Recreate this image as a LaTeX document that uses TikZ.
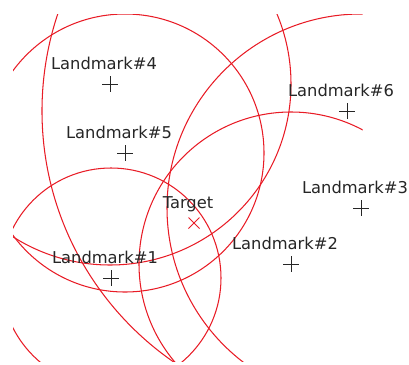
\documentclass[tikz,border=0pt]{standalone}
\usepackage{fontspec}
\setmainfont{DejaVu Sans}
\definecolor{ringred}{RGB}{232,28,38}
\definecolor{txtgray}{RGB}{38,38,38}
\begin{document}
\begin{tikzpicture}[x=1pt,y=-1pt,
  ring/.style={draw=ringred,line width=1.05pt},
  plusmk/.style={draw=txtgray,line width=0.95pt},
  xmk/.style={draw=ringred,line width=0.9pt},
  lbl/.style={anchor=base,inner sep=0pt,text=txtgray,font=\fontsize{16.3}{18}\selectfont}]
\useasboundingbox (0,0) rectangle (409,364);
\coordinate (L1) at (111,278);
\coordinate (L2) at (291,264);
\coordinate (L3) at (361,208);
\coordinate (L4) at (110,84);
\coordinate (L5) at (125,153);
\coordinate (L6) at (347,111);
\coordinate (T) at (194,223);
\begin{scope}
  \clip (13,14.5) rectangle (362.5,361.5);
  \draw[ring] (L1) circle[radius=110pt];
  \draw[ring] (L2) circle[radius=152pt];
  \draw[ring] (L3) circle[radius=194pt];
  \draw[ring] (L4) circle[radius=181pt];
  \draw[ring] (L5) circle[radius=139pt];
  \draw[ring] (L6) circle[radius=305pt];
\end{scope}
\foreach \p in {L1,L2,L3,L4,L5,L6}{
  \draw[plusmk] (\p) +(-8,0) -- +(8,0) (\p) +(0,-8) -- +(0,8);
}
\draw[xmk] (T) +(-5.5,-5.5) -- +(5.5,5.5) (T) +(-5.5,5.5) -- +(5.5,-5.5);
\node[lbl] (t1) at ([xshift=-6pt,yshift=14.5pt]L1) {Landmark\#1};
\node[lbl] (t2) at ([xshift=-6pt,yshift=14.5pt]L2) {Landmark\#2};
\node[lbl] (t3) at ([xshift=-6pt,yshift=14.5pt]L3) {Landmark\#3};
\node[lbl] (t4) at ([xshift=-6pt,yshift=14.5pt]L4) {Landmark\#4};
\node[lbl] (t5) at ([xshift=-6pt,yshift=14.5pt]L5) {Landmark\#5};
\node[lbl] (t6) at ([xshift=-6pt,yshift=14.5pt]L6) {Landmark\#6};
\node[lbl] (tt) at ([xshift=-6pt,yshift=15pt]T) {Target};
\end{tikzpicture}
\end{document}
